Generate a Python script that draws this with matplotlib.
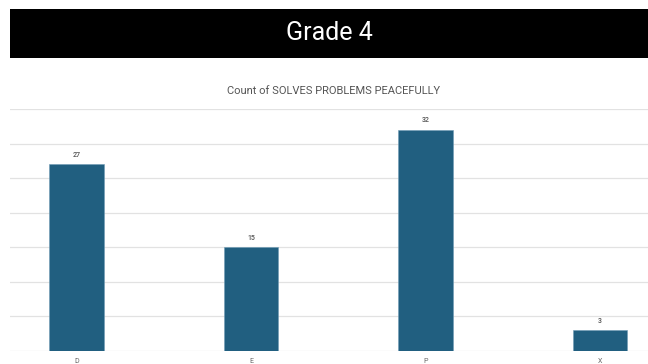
import matplotlib.pyplot as plt

plt.rcParams['font.family'] = ['Roboto', 'DejaVu Sans']

# counts per rating
categories = ['D', 'E', 'P', 'X']
counts = [27, 15, 32, 3]

W, H = 648, 364
fig = plt.figure(figsize=(W / 100, H / 100), dpi=100)
fig.patch.set_facecolor('white')

# black header banner
banner = fig.add_axes([10 / W, 1 - 58 / H, 1 - 10 / W, 49 / H])
banner.set_facecolor('black')
banner.set_xticks([])
banner.set_yticks([])
for s in banner.spines.values():
    s.set_visible(False)
banner.text(0.5, 0.5, 'Grade 4', color='white', fontsize=18,
            ha='center', va='center', transform=banner.transAxes)

fig.text(334 / W, 1 - 91 / H, 'Count of SOLVES PROBLEMS PEACEFULLY',
         fontsize=8, color='#555555', ha='center', va='center')

ax = fig.add_axes([10 / W, 13 / H, 1 - 10 / W, (351 - 109) / H])
x = range(len(categories))
bars = ax.bar(x, counts, width=0.315, color='#215f80',
              edgecolor='#6f9bb5', linewidth=0.4, zorder=3)
for b, v in zip(bars, counts):
    ax.text(b.get_x() + b.get_width() / 2, v + 0.8, str(v),
            ha='center', va='bottom', fontsize=5, color='#555555',
            fontweight='medium')

ax.set_ylim(0, 35)
ax.set_xlim(-0.381, 3.275)
ax.set_yticks(range(0, 36, 5))
ax.yaxis.grid(True, color='#e2e2e2', linewidth=0.9, zorder=0)
ax.tick_params(left=False, labelleft=False, bottom=False,
               labelsize=5, labelcolor='#666666', pad=1.5)
ax.set_xticks(list(x))
ax.set_xticklabels(categories)
for s in ax.spines.values():
    s.set_visible(False)

fig.savefig('out.png', dpi=100)
